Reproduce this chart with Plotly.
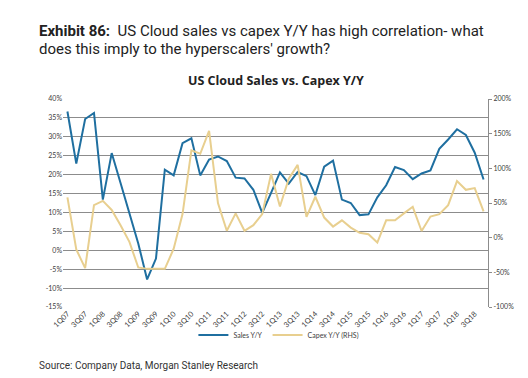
import plotly.graph_objects as go

quarters = ["1Q07","2Q07","3Q07","4Q07","1Q08","2Q08","3Q08","4Q08",
            "1Q09","2Q09","3Q09","4Q09","1Q10","2Q10","3Q10","4Q10",
            "1Q11","2Q11","3Q11","4Q11","1Q12","2Q12","3Q12","4Q12",
            "1Q13","2Q13","3Q13","4Q13","1Q14","2Q14","3Q14","4Q14",
            "1Q15","2Q15","3Q15","4Q15","1Q16","2Q16","3Q16","4Q16",
            "1Q17","2Q17","3Q17","4Q17","1Q18","2Q18","3Q18","4Q18"]

sales_yy = [36.7, 22.9, 34.7, 36.3, 13.4, 25.7, 17.8, 9.9, 1.8, -7.7, -2.2, 21.3,
            19.8, 28.3, 29.6, 19.8, 24.0, 24.8, 23.6, 19.2, 19.0, 16.0, 9.9, 15.2,
            20.6, 17.6, 20.7, 19.6, 14.6, 22.1, 23.7, 13.4, 12.5, 9.3, 9.5, 14.0,
            17.2, 22.0, 21.2, 18.8, 20.3, 21.1, 26.8, 29.3, 32.0, 30.5, 25.8, 18.7]

capex_yy = [58, -17, -44, 47, 53, 40, 18, -6, -43, -45, -45, -45,
            -16, 34, 126, 121, 154, 50, 10, 35, 10, 18, 34, 92,
            45, 85, 105, 30, 59, 29, 16, 25, 14.5, 7, 5, -7,
            25, 25, 35, 44.5, 9.6, 30.5, 34, 47, 81.5, 69, 71.5, 38]

x_tick_labels = quarters[::2]
left_tick_vals = [40, 35, 30, 25, 20, 15, 10, 5, 0, -5, -10, -15]
left_tick_text = ["40%", "35%", "30%", "25%", "20%", "15%", "10%", "5%", "0%", "-5%", "-10%", "-15%"]
right_tick_vals = [200, 150, 100, 50, 0, -50, -100]
right_tick_text = ["200%", "150%", "100%", "50%", "0%", "-50%", "-100%"]

BLUE = "#1F6FA0"
TAN = "#E8CF8F"
TICKFONT = dict(family="Lato, Open Sans, sans-serif", size=7, color="#404040")

fig = go.Figure()
fig.add_trace(go.Scatter(x=quarters, y=sales_yy, mode="lines", name="Sales Y/Y",
                         line=dict(color=BLUE, width=2)))
fig.add_trace(go.Scatter(x=quarters, y=capex_yy, mode="lines", name="Capex Y/Y (RHS)",
                         line=dict(color=TAN, width=2), yaxis="y2"))

fig.update_layout(
    width=528, height=378,
    margin=dict(l=55, r=48, t=91, b=79, autoexpand=False),
    paper_bgcolor="white", plot_bgcolor="white",
    showlegend=True,
    legend=dict(orientation="h", x=0.508, xanchor="center", y=-0.135, yanchor="middle",
                font=dict(family="Lato, Open Sans, sans-serif", size=7, color="#404040"),
                itemwidth=30, traceorder="normal", bgcolor="rgba(0,0,0,0)"),
    xaxis=dict(type="category", categoryorder="array", categoryarray=quarters,
               range=[-0.5, len(quarters) - 0.5],
               tickmode="array", tickvals=x_tick_labels, ticktext=x_tick_labels,
               tickangle=-45, tickfont=dict(family="Lato, Open Sans, sans-serif", size=7.5, color="#404040"),
               showgrid=False, showline=False,
               ticks="", zeroline=False, fixedrange=True),
    yaxis=dict(range=[-15, 40], tickmode="array", tickvals=left_tick_vals,
               ticktext=left_tick_text, tickfont=TICKFONT, showgrid=True,
               gridcolor="#8C8C8C", gridwidth=1, zeroline=False, showline=False,
               ticks="", ticklen=0),
    yaxis2=dict(range=[-100, 200], overlaying="y", side="right", tickmode="array",
                tickvals=right_tick_vals, ticktext=right_tick_text, tickfont=TICKFONT,
                showgrid=False, zeroline=False, showline=True, linecolor="#8C8C8C",
                linewidth=1, ticks="outside", ticklen=3, tickcolor="#8C8C8C"),
)

PX_L, PX_R, PX_T, PX_B = 55, 480, 91, 299
def px(xp):
    return (xp - PX_L) / (PX_R - PX_L)
def py(yp):
    return (PX_B - yp) / (PX_B - PX_T)

annotations = [
    dict(text="<b>Exhibit 86:</b>  US Cloud sales vs capex Y/Y has high correlation- what",
         x=px(29), y=py(23), xref="paper", yref="paper", xanchor="left", yanchor="middle",
         showarrow=False, font=dict(family="Roboto", size=15, color="#222222")),
    dict(text="does this imply to the hyperscalers' growth?",
         x=px(29), y=py(41), xref="paper", yref="paper", xanchor="left", yanchor="middle",
         showarrow=False, font=dict(family="Roboto", size=15, color="#222222")),
    dict(text="<b>US Cloud Sales vs. Capex Y/Y</b>",
         x=px(268), y=py(72), xref="paper", yref="paper", xanchor="center", yanchor="middle",
         showarrow=False, font=dict(family="Open Sans", size=12.5, color="#222222")),
    dict(text="Source: Company Data, Morgan Stanley Research",
         x=px(29), y=py(357), xref="paper", yref="paper", xanchor="left", yanchor="middle",
         showarrow=False, font=dict(family="Roboto", size=10, color="#333333")),
]
fig.update_layout(annotations=annotations)

fig.write_html("out.html")
